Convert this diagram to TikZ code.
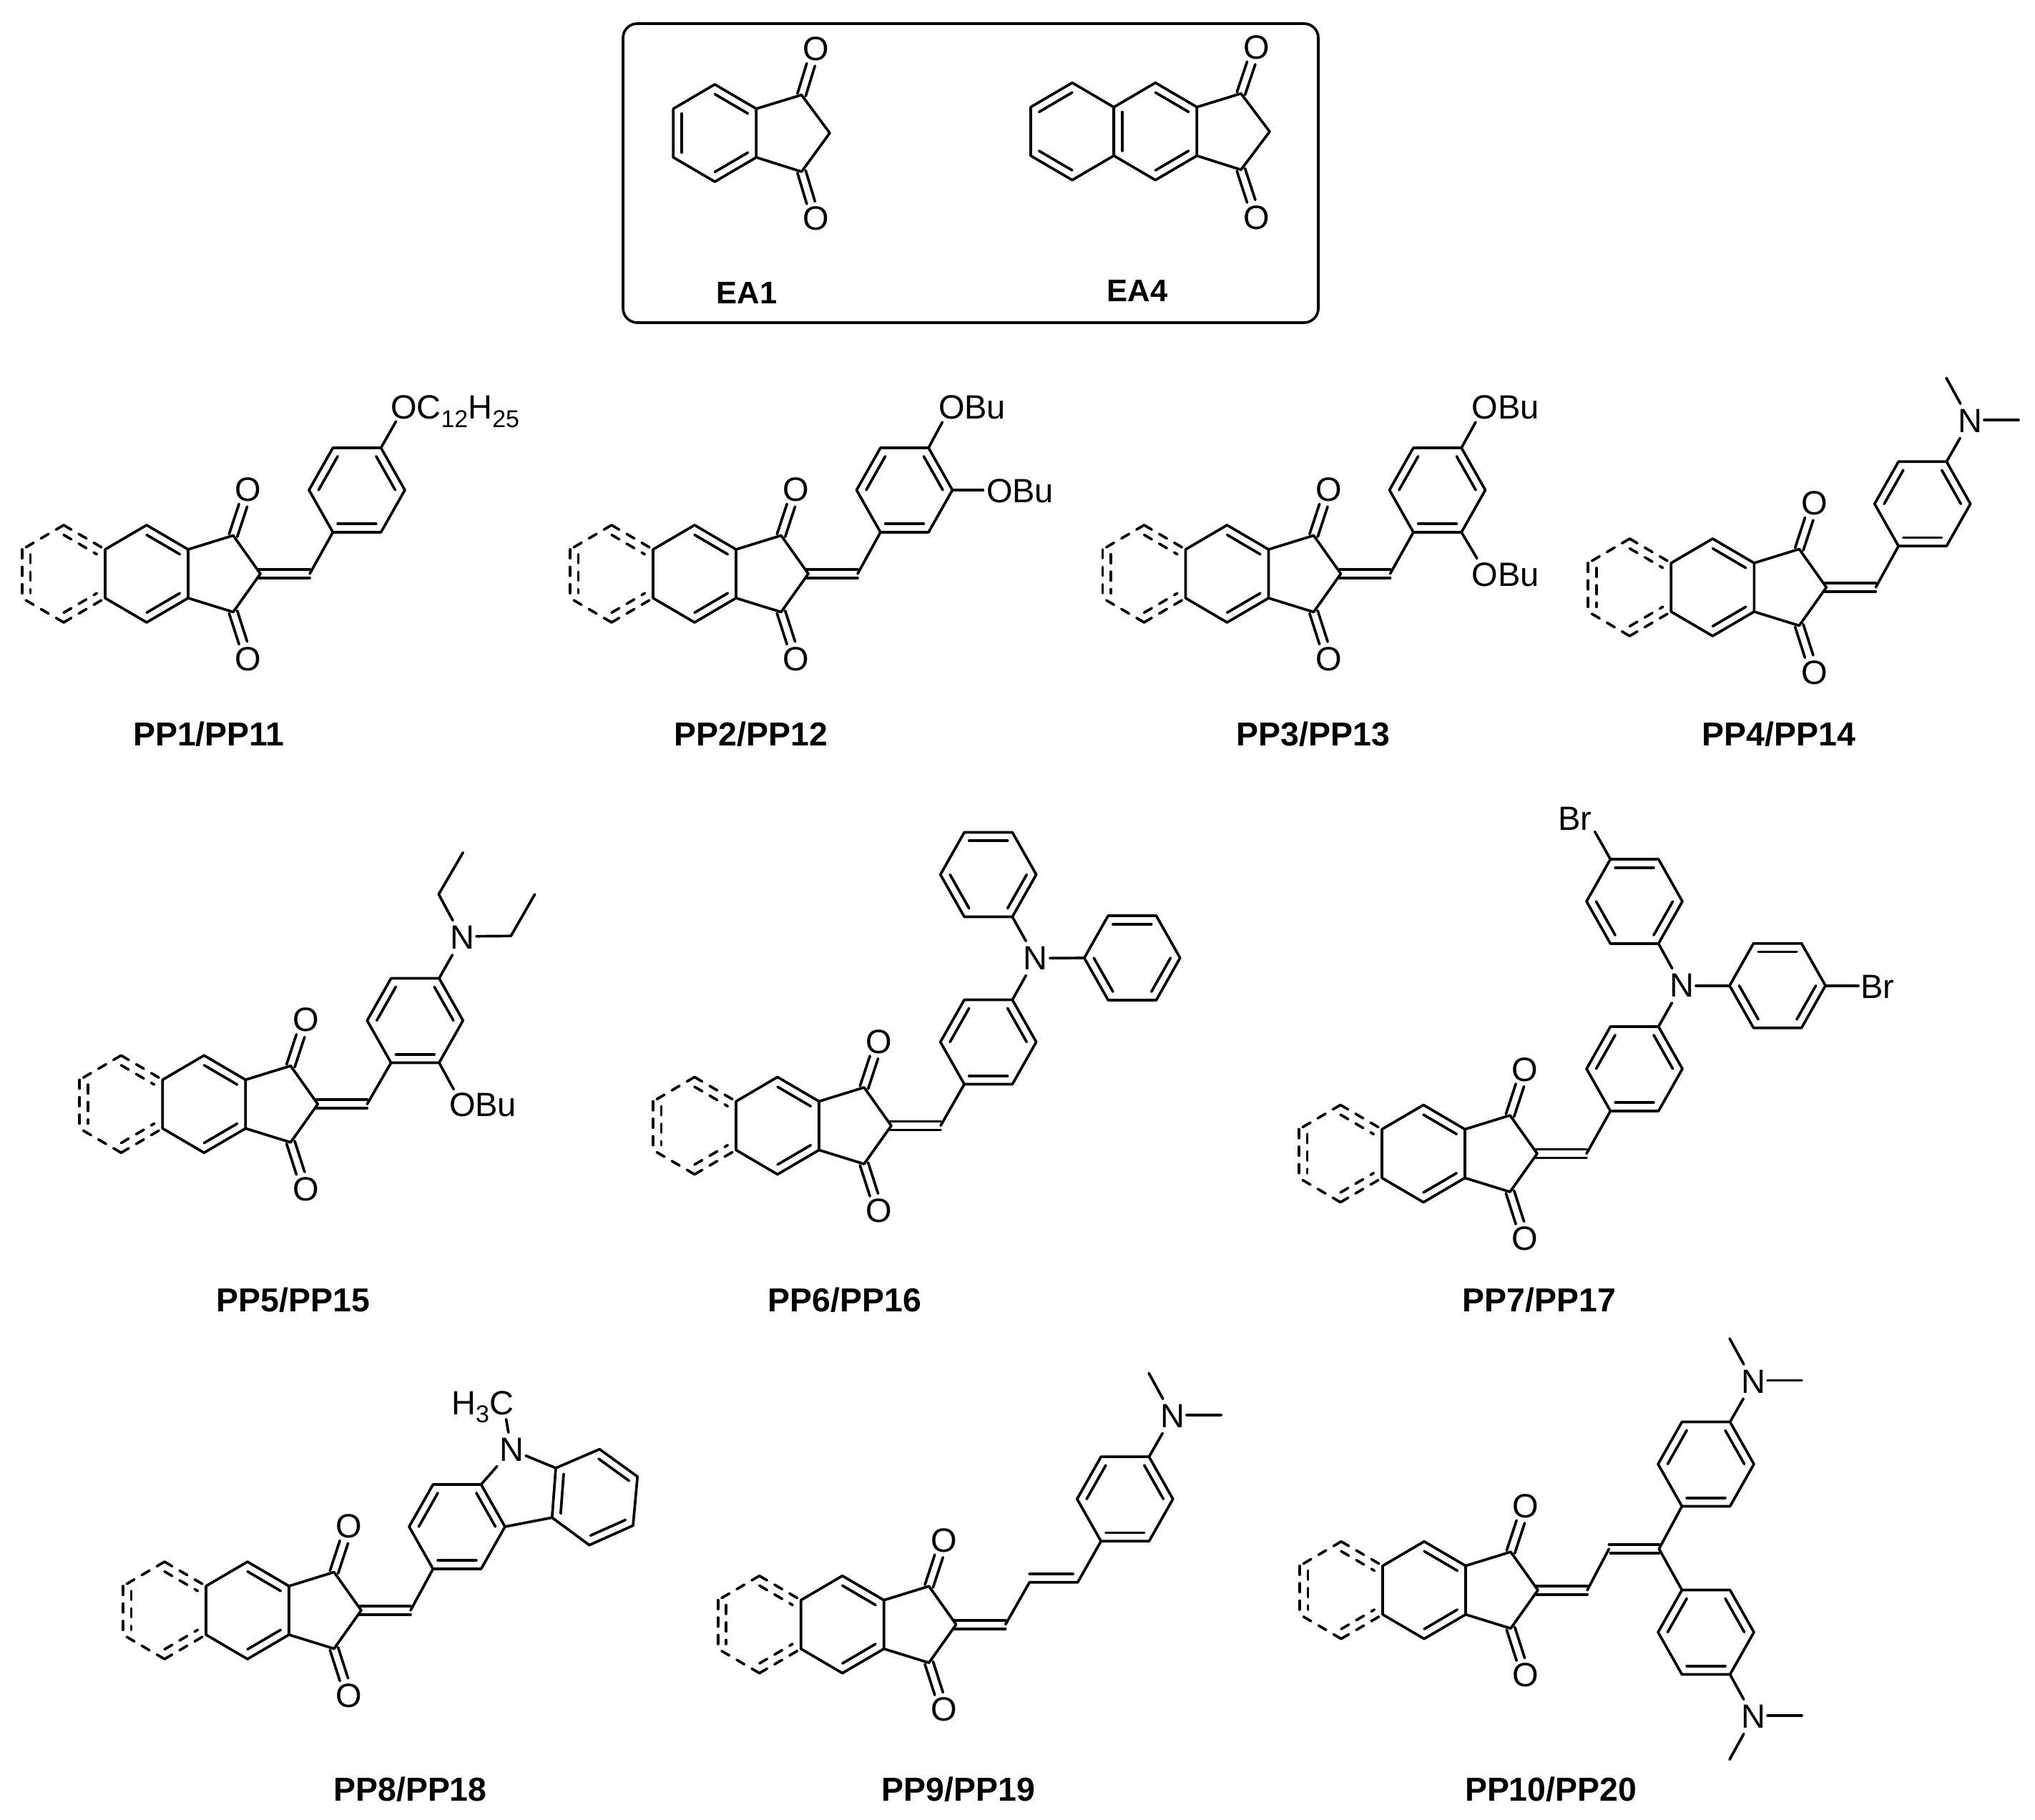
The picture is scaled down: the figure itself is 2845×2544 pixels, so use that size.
\documentclass[tikz,border=0pt]{standalone}
\usepackage{fontspec}
\setmainfont{Liberation Sans}
\usetikzlibrary{calc}
\tikzset{
  bond/.style={line width=0.92pt,line cap=round,line join=round,black},
  dbond/.style={bond,dash pattern=on 3.1pt off 3.0pt},
  atom/.style={inner sep=0pt,outer sep=0pt,font=\fontsize{11.75pt}{14pt}\selectfont},
  natom/.style={atom,minimum width=10pt,minimum height=12pt},
  lab/.style={inner sep=0pt,font=\fontsize{11.6pt}{14pt}\selectfont\bfseries},
  elab/.style={inner sep=0pt,font=\fontsize{10.9pt}{14pt}\selectfont\bfseries},
  box/.style={bond,rounded corners=5pt}
}
\newcommand{\sbs}[1]{\raisebox{-0.25em}{\fontsize{8.5pt}{9pt}\selectfont #1}}
% flat-top hexagon: 1 TL, 2 TR, 3 R, 4 BR, 5 BL, 6 L
\newcommand{\hexf}[3]{%
  \coordinate (#1-c) at (#2,#3);
  \coordinate (#1-1) at ($(#1-c)+(-33.6,-59)$);
  \coordinate (#1-2) at ($(#1-c)+(33.6,-59)$);
  \coordinate (#1-3) at ($(#1-c)+(67,0)$);
  \coordinate (#1-4) at ($(#1-c)+(33.6,59)$);
  \coordinate (#1-5) at ($(#1-c)+(-33.6,59)$);
  \coordinate (#1-6) at ($(#1-c)+(-67,0)$);
  \draw[bond] (#1-1)--(#1-2)--(#1-3)--(#1-4)--(#1-5)--(#1-6)--cycle;}
% pointy-top hexagon coordinates: 1 top, 2 RT, 3 RB, 4 bottom, 5 LB, 6 LT
\newcommand{\hexpc}[3]{%
  \coordinate (#1-c) at (#2,#3);
  \coordinate (#1-1) at ($(#1-c)+(0,-68)$);
  \coordinate (#1-2) at ($(#1-c)+(58,-34)$);
  \coordinate (#1-3) at ($(#1-c)+(58,34)$);
  \coordinate (#1-4) at ($(#1-c)+(0,68)$);
  \coordinate (#1-5) at ($(#1-c)+(-58,34)$);
  \coordinate (#1-6) at ($(#1-c)+(-58,-34)$);}
\newcommand{\hexp}[3]{\hexpc{#1}{#2}{#3}%
  \draw[bond] (#1-1)--(#1-2)--(#1-3)--(#1-4)--(#1-5)--(#1-6)--cycle;}
\newcommand{\dbl}[3]{\draw[bond] ($(#1-#2)!.2!(#1-c)$) -- ($(#1-#3)!.2!(#1-c)$);}
\newcommand{\ddbl}[3]{\draw[dbond] ($(#1-#2)!.2!(#1-c)$) -- ($(#1-#3)!.2!(#1-c)$);}
\newcommand{\phA}[3]{\hexf{#1}{#2}{#3}\dbl{#1}{4}{5}\dbl{#1}{6}{1}\dbl{#1}{2}{3}}
\newcommand{\phB}[3]{\hexf{#1}{#2}{#3}\dbl{#1}{1}{2}\dbl{#1}{6}{5}\dbl{#1}{3}{4}}
% carbonyl double bond from carbon coordinate to oxygen node
\newcommand{\cdo}[2]{%
  \draw[bond] ($(#1)!1.5pt!90:(#2)$) -- ($($(#1)!.66!(#2)$)!1.5pt!90:(#2)$);
  \draw[bond] ($(#1)!1.5pt!-90:(#2)$) -- ($($(#1)!.66!(#2)$)!1.5pt!-90:(#2)$);}
% the common arylidene-indandione core; #2,#3 is the exocyclic ring carbon
\newcommand{\core}[3]{%
  \begin{scope}[shift={(#2,#3)}]
    \coordinate (#1-C2) at (0,0);
    \coordinate (#1-CH) at (69,0);
    \coordinate (#1-CO1) at (-38,-53.5);
    \coordinate (#1-CO2) at (-38,53.5);
    \node[atom] (#1-O1) at (-17,-117.5) {O};
    \node[atom] (#1-O2) at (-17,119) {O};
    \hexp{#1m}{-159}{0}
    \hexpc{#1d}{-275}{0}
    \draw[bond] (#1m-2)--(#1-CO1)--(#1-C2)--(#1-CO2)--(#1m-3);
    \cdo{#1-CO1}{#1-O1}
    \cdo{#1-CO2}{#1-O2}
    \dbl{#1m}{1}{2}
    \dbl{#1m}{3}{4}
    \draw[bond] (-2,-6)--(69,-6);
    \draw[bond] (-2,6)--(69,6);
    \draw[dbond] (#1d-1)--(#1d-2);
    \draw[dbond] (#1d-1)--(#1d-6);
    \draw[dbond] (#1d-6)--(#1d-5);
    \draw[dbond] (#1d-4)--(#1d-5);
    \draw[dbond] (#1d-4)--(#1d-3);
    \ddbl{#1d}{1}{2}
    \ddbl{#1d}{6}{5}
    \ddbl{#1d}{4}{3}
  \end{scope}}
% stub bond ending at a named free end
\newcommand{\bnd}[4]{\coordinate (#2) at (#3,#4); \draw[bond] (#1)--(#2);}
% dimethylamino: name,x,y,ring vertex,sign
\newcommand{\dma}[5]{%
  \node[natom] (#1) at (#2,#3) {N};
  \coordinate (#1-me) at ($(#1)+(-33,#5*60)$);
  \coordinate (#1-a) at ($(#1.east)+(0,-1.4)$);
  \coordinate (#1-b) at ($(#1.east)+(48,-1.4)$);
  \draw[bond] (#4)--(#1);
  \draw[bond] (#1-me)--(#1);
  \draw[bond] (#1-a)--(#1-b);}
\begin{document}
\begin{tikzpicture}[x=0.25pt,y=-0.25pt]
\useasboundingbox (0,0) rectangle (2845,2544);
\fill[white] (0,0) rectangle (2845,2544);

% ---------- EA box ----------
\draw[box] (871,33) rectangle (1843,451);
\hexp{ea}{999.3}{186}
\dbl{ea}{1}{2}\dbl{ea}{6}{5}\dbl{ea}{3}{4}
\coordinate (ea-CO1) at (1120.6,132.7);
\coordinate (ea-CO2) at (1120.6,240);
\coordinate (ea-CH) at (1160,186);
\node[atom] (ea-O1) at (1140.3,68.3) {O};
\node[atom] (ea-O2) at (1140.3,305.7) {O};
\draw[bond] (ea-2)--(ea-CO1)--(ea-CH)--(ea-CO2)--(ea-3);
\cdo{ea-CO1}{ea-O1}
\cdo{ea-CO2}{ea-O2}
\node[elab] (ea1) at (1044,409.5) {EA1};

\hexp{eb}{1499}{183.7}
\hexp{ec}{1615.3}{183.7}
\dbl{eb}{1}{6}\dbl{eb}{5}{4}
\dbl{ec}{6}{5}\dbl{ec}{1}{2}\dbl{ec}{3}{4}
\coordinate (ec-CO1) at (1734.9,130.7);
\coordinate (ec-CO2) at (1734.9,237.3);
\coordinate (ec-CH) at (1775,184);
\node[atom] (ec-O1) at (1756.6,66) {O};
\node[atom] (ec-O2) at (1756.6,304) {O};
\draw[bond] (ec-2)--(ec-CO1)--(ec-CH)--(ec-CO2)--(ec-3);
\cdo{ec-CO1}{ec-O1}
\cdo{ec-CO2}{ec-O2}
\node[elab] (ea4) at (1590,406.5) {EA4};

% ---------- PP1 ----------
\core{pa}{364}{802}
\phA{par}{499}{685}
\draw[bond] (pa-CH)--(par-5);
\bnd{par-2}{pa-e}{553.6}{589}
\node[atom,anchor=base west] (pa-t) at (546,585.5) {OC\sbs{12}H\sbs{25}};
\node[lab] (pal) at (292,1026) {PP1/PP11};

% ---------- PP2 ----------
\core{pb}{1130}{802}
\phA{pbr}{1264.5}{685}
\draw[bond] (pb-CH)--(pbr-5);
\bnd{pbr-2}{pb-e1}{1317.4}{590}
\bnd{pbr-3}{pb-e2}{1374.4}{685}
\node[atom,anchor=base west] (pb-t1) at (1312,585.5) {OBu};
\node[atom,anchor=base west] (pb-t2) at (1379,702.5) {OBu};
\node[lab] (pbl) at (1050,1026) {PP2/PP12};

% ---------- PP3 ----------
\core{pc}{1874.5}{802}
\phA{pcr}{2009.5}{685}
\draw[bond] (pc-CH)--(pcr-5);
\bnd{pcr-2}{pc-e1}{2063}{590}
\bnd{pcr-4}{pc-e2}{2065}{780.7}
\node[atom,anchor=base west] (pc-t1) at (2057.6,585.5) {OBu};
\node[atom,anchor=base west] (pc-t2) at (2057.6,820) {OBu};
\node[lab] (pcl) at (1836,1026) {PP3/PP13};

% ---------- PP4 ----------
\core{pd}{2553.3}{821}
\phA{pdr}{2687.7}{704.3}
\draw[bond] (pd-CH)--(pdr-5);
\dma{pd-N}{2754}{588.3}{pdr-2}{-1}
\node[lab] (pdl) at (2487,1026) {PP4/PP14};

% ---------- PP5 ----------
\core{pe}{444.3}{1543.3}
\phA{per}{580.3}{1426.5}
\draw[bond] (pe-CH)--(per-5);
\node[natom] (pe-N) at (646,1310.7) {N};
\draw[bond] (per-2)--(pe-N);
\coordinate (pe-a1) at (613.3,1250);
\coordinate (pe-a2) at (647.3,1191.7);
\draw[bond] (pe-a2)--(pe-a1)--(pe-N);
\coordinate (pe-b0) at ($(pe-N.east)+(0,-2)$);
\coordinate (pe-b1) at (714.3,1308.3);
\coordinate (pe-b2) at (747.7,1250);
\draw[bond] (pe-b0)--(pe-b1)--(pe-b2);
\bnd{per-4}{pe-e}{634.3}{1522.7}
\node[atom,anchor=base west] (pe-t) at (628,1560) {OBu};
\node[lab] (pel) at (410,1817) {PP5/PP15};

% ---------- PP6 ----------
\core{pf}{1246}{1573.5}
\phA{pfa}{1381.7}{1456.5}
\phB{pfb}{1381.7}{1222.5}
\phB{pfc}{1582.8}{1339}
\draw[bond] (pf-CH)--(pfa-5);
\node[natom] (pf-N) at (1447.7,1339.5) {N};
\draw[bond] (pfa-2)--(pf-N);
\draw[bond] (pfb-4)--(pf-N);
\draw[bond] (pfc-6)--(pf-N);
\node[lab] (pfl) at (1181,1817) {PP6/PP16};

% ---------- PP7 ----------
\core{pg}{2149}{1612.5}
\phA{pga}{2285}{1494}
\phB{pgb}{2285}{1260}
\phB{pgc}{2485}{1377.7}
\draw[bond] (pg-CH)--(pga-5);
\node[natom] (pg-N) at (2351,1377.7) {N};
\draw[bond] (pga-2)--(pg-N);
\draw[bond] (pgb-4)--(pg-N);
\draw[bond] (pgc-6)--(pg-N);
\bnd{pgb-1}{pg-e1}{2229.6}{1162.5}
\bnd{pgc-3}{pg-e2}{2598}{1377.7}
\node[atom,anchor=base west] (pg-t1) at (2178.5,1160) {Br};
\node[atom,anchor=base west] (pg-t2) at (2601,1395) {Br};
\node[lab] (pgl) at (2152,1817) {PP7/PP17};

% ---------- PP8 ----------
\core{ph}{505}{2251}
\phA{pha}{639}{2134}
\draw[bond] (ph-CH)--(pha-5);
\node[natom] (ph-N) at (715,2026.5) {N};
\coordinate (phd-1) at (777,2052);
\coordinate (phd-2) at (838.2,2025.7);
\coordinate (phd-3) at (891.2,2064);
\coordinate (phd-4) at (885,2132.4);
\coordinate (phd-5) at (823.9,2159.7);
\coordinate (phd-6) at (771.8,2121.3);
\coordinate (phd-c) at (832,2093);
\draw[bond] (phd-1)--(phd-2)--(phd-3)--(phd-4)--(phd-5)--(phd-6)--cycle;
\dbl{phd}{1}{6}\dbl{phd}{2}{3}\dbl{phd}{4}{5}
\draw[bond] (pha-3)--(phd-6);
\draw[bond] (phd-1)--(ph-N);
\draw[bond] (pha-2)--(ph-N);
\coordinate (ph-me) at (707.6,1983.8);
\draw[bond] (ph-me)--(ph-N);
\node[atom,anchor=base east] (ph-t) at (718,1977) {H\sbs{3}C};
\node[lab] (phl) at (573.5,2501) {PP8/PP18};

% ---------- PP9 ----------
\core{pi}{1336.7}{2270.7}
\phA{pir}{1572.8}{2095.3}
\coordinate (pi-v1) at (1439.3,2211.7);
\coordinate (pi-v2) at (1506.7,2211.7);
\coordinate (pi-w1) at (1439.3,2200);
\coordinate (pi-w2) at (1500,2200);
\draw[bond] (pi-CH)--(pi-v1)--(pi-v2)--(pir-5);
\draw[bond] (pi-w1)--(pi-w2);
\dma{pi-N}{1639}{1979.3}{pir-2}{-1}
\node[lab] (pil) at (1340,2501) {PP9/PP19};

% ---------- PP10 ----------
\core{pj}{2150}{2222.7}
\phA{pju}{2385}{2046.5}
\phA{pjw}{2385}{2281.5}
\coordinate (pj-v1) at (2249.4,2165);
\coordinate (pj-v2) at (2319.3,2165);
\draw[bond] (pj-CH)--(pj-v1);
\draw[bond] ($(pj-v1)+(0,-6)$)--($(pj-v2)+(0,-6)$);
\draw[bond] ($(pj-v1)+(2,6)$)--($(pj-v2)+(0,6)$);
\draw[bond] (pj-v2)--(pju-5);
\draw[bond] (pj-v2)--(pjw-1);
\dma{pj-N1}{2451}{1931}{pju-2}{-1}
\dma{pj-N2}{2451}{2399.5}{pjw-4}{1}
\node[lab] (pjl) at (2168,2501) {PP10/PP20};
\end{tikzpicture}
\end{document}
